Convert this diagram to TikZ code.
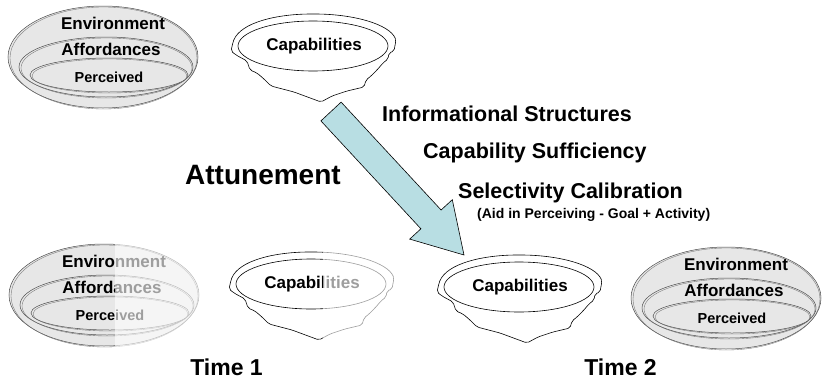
\documentclass[tikz,border=0pt]{standalone}
\usepackage{fontspec}
\setmainfont{Liberation Sans}
\definecolor{ringgray}{RGB}{231,231,231}
\definecolor{arrowblue}{RGB}{184,222,227}
\tikzset{
    ring/.style={draw=black!70, line width=0.5pt, fill=ringgray},
    rim/.style={draw=black!55, line width=0.35pt},
    bowlline/.style={draw=black, line width=0.6pt, fill=white},
    lbl/.style={inner sep=0pt, font=\bfseries\fontsize{17}{20}\selectfont},
    small lbl/.style={lbl, font=\bfseries\fontsize{14.5}{17}\selectfont},
    head lbl/.style={inner sep=0pt, anchor=west, font=\bfseries\fontsize{21.5}{25}\selectfont},
    washout/.style={fill=white, fill opacity=0.62, draw=none},
    attune arrow/.style={fill=arrowblue, draw=black, line width=0.6pt, line join=miter},
    % three nested rings, each with a thin second rim line
    envset/.pic={
        \foreach \cx/\cy/\rx/\ry in {0/0/95/51, 3/10/87/30, 6/18/79/17} {
            \draw[ring] (\cx,\cy) ellipse [x radius=\rx, y radius=\ry];
            \draw[rim] (\cx+0.5,\cy+1) ellipse [x radius=\rx-1.5, y radius=\ry];
        }
        \node[lbl] (-env) at (10,-34) {Environment};
        \node[lbl] (-aff) at (8,-8) {Affordances};
        \node[small lbl] (-per) at (6,20) {Perceived};
    },
    % bowl with a rim ellipse
    bowl/.pic={
        \draw[bowlline, rounded corners=2pt] (-82,5) -- (-80,-4)
            .. controls (-72,-24) and (-35,-32) .. (0,-32)
            .. controls (40,-32) and (76,-22) .. (83,-6)
            -- (81,5) -- (76,7) -- (75,13) -- (70,17) -- (64,24) -- (58,30)
            -- (53,34) -- (51,41) -- (34,45) -- (19,50) -- (8,56)
            -- (-19,46) -- (-42,40) -- (-49,33) -- (-56,27) -- (-63,24)
            -- (-66,15) -- (-77,9) -- cycle;
        \draw[bowlline] (0,0) ellipse [x radius=75, y radius=25];
        \node[lbl] (-cap) at (1,0) {Capabilities};
    }
}

\begin{document}
\begin{tikzpicture}[x=1pt, y=-1pt]
    \useasboundingbox (0,0) rectangle (825,389);

    % before
    \pic (envA) at (103,57) {envset};
    \pic (capA) at (313,46) {bowl};

    \draw[attune arrow] (341.1,102.1) -- (441.1,210) -- (452.3,199.7) -- (464,255)
        -- (409.7,239.1) -- (420.9,228.8) -- (320.9,120.9) -- cycle;

    \node[inner sep=0pt, anchor=west, font=\bfseries\fontsize{28}{32}\selectfont]
        (attune) at (185,175) {Attunement};
    \node[head lbl] (info) at (382,114) {Informational Structures};
    \node[head lbl] (suff) at (423,153) {Capability Sufficiency};
    \node[head lbl] (sel) at (458,193) {Selectivity Calibration};
    \node[inner sep=0pt, anchor=west, font=\bfseries\fontsize{14}{17}\selectfont]
        (aid) at (477,215) {(Aid in Perceiving - Goal + Activity)};

    % time 1, half washed out
    \pic (envB) at (104,295) {envset};
    \pic (capB) at (311,284) {bowl};
    \fill[washout] (115,238) rectangle (206,353);
    \fill[washout] (323,248) rectangle (402,348);

    % time 2
    \pic (capC) at (519,287) {bowl};
    \pic (envC) at (726,298) {envset};

    \node[inner sep=0pt, font=\bfseries\fontsize{23}{27}\selectfont] (time1) at (226.5,367) {Time 1};
    \node[inner sep=0pt, font=\bfseries\fontsize{23}{27}\selectfont] (time2) at (620.5,367) {Time 2};

    % \draw[help lines, step=50] (0,0) grid (825,389);
\end{tikzpicture}
\end{document}
